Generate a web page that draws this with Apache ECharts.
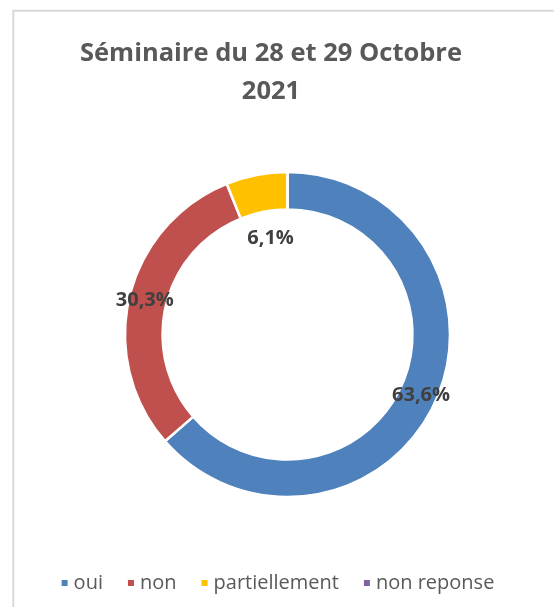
<!DOCTYPE html>
<html>
<head>
<meta charset="utf-8">
<script src="https://cdn.jsdelivr.net/npm/echarts@6/dist/echarts.min.js"></script>
<style>
  html, body { margin: 0; padding: 0; background: #fff; }
  #chart { width: 554px; height: 607px; }
</style>
</head>
<body>
<div id="chart"></div>
<script>
// données
const categories = ['oui', 'non', 'partiellement', 'non reponse'];
const values = [63.6, 30.3, 6.1, 0];
const colors = ['#4F81BD', '#C0504D', '#FFC000', '#8064A2'];
const titleText = 'Séminaire du 28 et 29 Octobre\n2021';

const font = "'Open Sans', sans-serif";
const chart = echarts.init(document.getElementById('chart'));

const option = {
  animation: false,
  color: colors,
  graphic: [
    {
      type: 'rect',
      shape: { x: 13.3, y: 10.7, width: 700, height: 800 },
      style: { fill: 'none', stroke: '#D9D9D9', lineWidth: 2 },
      silent: true
    }
  ],
  title: {
    text: titleText,
    left: 266,
    textAlign: 'center',
    top: 30,
    textStyle: {
      fontFamily: font,
      fontSize: 25.5,
      fontWeight: 'bold',
      color: '#595959',
      lineHeight: 38
    }
  },
  legend: {
    data: categories,
    left: 'center',
    top: 568,
    icon: 'rect',
    itemWidth: 8,
    itemHeight: 8,
    itemGap: 23,
    textStyle: {
      fontFamily: font,
      fontSize: 20,
      color: '#595959'
    }
  },
  series: [
    {
      type: 'pie',
      center: [287.5, 334.5],
      radius: [125, 162.5],
      startAngle: 90,
      clockwise: true,
      avoidLabelOverlap: false,
      itemStyle: { borderColor: '#fff', borderWidth: 2.5 },
      label: {
        show: true,
        position: 'inside',
        fontFamily: font,
        fontSize: 20,
        fontWeight: 'bold',
        color: '#404040',
        formatter: p => p.value > 0 ? p.value.toFixed(1).replace('.', ',') + '%' : ''
      },
      labelLayout: function (params) {
        // l'étiquette du petit secteur est déplacée vers l'intérieur
        if (params.dataIndex === 2) return { dx: 11, dy: 48 };
        return {};
      },
      labelLine: { show: false },
      emphasis: { disabled: true },
      data: categories.map((c, i) => ({ name: c, value: values[i] }))
    }
  ]
};

chart.setOption(option);
</script>
</body>
</html>
